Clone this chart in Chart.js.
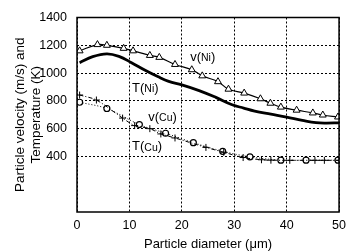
<!DOCTYPE html>
<html><head><meta charset="utf-8">
<script src="https://cdn.jsdelivr.net/npm/chart.js@4/dist/chart.umd.min.js"></script>
<style>html,body{margin:0;padding:0;background:#fff}#w{width:352px;height:252px}</style>
</head><body><div id="w"><canvas id="c"></canvas></div>
<script>
const xTicks = [0, 10, 20, 30, 40, 50];
const yTicks = [400, 600, 800, 1000, 1200, 1400];
const vNiX = [0.5, 3.9, 5.7, 8.9, 10.7, 13.9, 15.7, 18.7, 21.9, 23.9, 26.9, 28.9, 31.9, 35, 36.9, 38.9, 41.9, 45, 46.9, 49.8];
const vNiY = [1160, 1205, 1200, 1178, 1160, 1127, 1113, 1062, 1024, 980, 938, 884, 856, 815, 783, 755, 733, 713, 698, 684];
const tNiX = [0.5, 3, 5.7, 8, 10.4, 13, 15.4, 17.5, 20, 23.3, 26.5, 29.6, 31.8, 33.9, 37, 40, 43, 45.6, 47.5, 50];
const tNiY = [1075, 1118, 1138, 1120, 1075, 1020, 975, 940, 915, 874, 825, 772, 748, 726, 704, 683, 660, 643, 640, 642];
const vCuX = [0.5, 3.7, 8.7, 11, 13.9, 16, 18.7, 24.6, 28, 31.7, 35.2, 37, 40.6, 45.4, 47.2, 50];
const vCuY = [842, 806, 676, 622, 600, 562, 533, 465, 430, 392, 376, 373, 372, 372, 372, 372];
const tCuX = [0.5, 5.7, 11.9, 16.9, 22.2, 27.8, 33, 38.9, 43.7, 49.8];
const tCuY = [790, 745, 629, 567, 499, 437, 397, 373, 373, 373];
const seriesLabels = ['v(Ni)', 'T(Ni)', 'v(Cu)', 'T(Cu)'];

const pts = (xs, ys) => xs.map((x, i) => ({x, y: ys[i]}));
const FONT = "'Liberation Sans', Arial, sans-serif";

const boxPlugin = {
  id: 'box',
  afterDatasetsDraw(chart) {
    const {ctx, chartArea: a, scales: {x, y}} = chart;
    ctx.save();
    ctx.strokeStyle = '#000';
    ctx.lineWidth = 1.5;
    ctx.strokeRect(a.left, a.top, a.right - a.left, a.bottom - a.top);
    const lab = [
      ['v(', 'Ni', ')', 21.6, 1113],
      ['T(', 'Ni', ')', 10.5, 890],
      ['v(', 'Cu', ')', 13.6, 683],
      ['T(', 'Cu', ')', 10.5, 470]
    ];
    ctx.fillStyle = '#000';
    ctx.textBaseline = 'middle';
    ctx.textAlign = 'left';
    lab.forEach(([p, s, q, dx, dy]) => {
      let px = x.getPixelForValue(dx), py = y.getPixelForValue(dy);
      ctx.font = '13px ' + FONT; ctx.fillText(p, px, py); px += ctx.measureText(p).width;
      ctx.font = '10.5px ' + FONT; ctx.fillText(s, px, py + 1); px += ctx.measureText(s).width;
      ctx.font = '13px ' + FONT; ctx.fillText(q, px, py);
    });
    ctx.restore();
  }
};

new Chart(document.getElementById('c'), {
  type: 'scatter',
  data: {
    datasets: [
      {label: seriesLabels[0], data: pts(vNiX, vNiY), showLine: true, borderColor: '#000', borderWidth: 1.2, tension: 0.4,
       pointStyle: 'triangle', pointRadius: 4, pointBorderWidth: 1, pointBackgroundColor: '#fff', pointBorderColor: '#000'},
      {label: seriesLabels[1], data: pts(tNiX, tNiY), showLine: true, borderColor: '#000', borderWidth: 2.8, tension: 0.4, pointRadius: 0},
      {label: seriesLabels[2], data: pts(vCuX, vCuY), showLine: true, borderColor: '#000', borderWidth: 1, borderDash: [4, 2, 1, 2], tension: 0.3,
       pointStyle: 'cross', pointRadius: 3.5, pointBorderWidth: 1, pointBorderColor: '#000'},
      {label: seriesLabels[3], data: pts(tCuX, tCuY), showLine: true, borderColor: '#000', borderWidth: 1, borderDash: [1, 2], tension: 0.3,
       pointStyle: 'circle', pointRadius: 3, pointBorderWidth: 1.2, pointBackgroundColor: '#fff', pointBorderColor: '#000'}
    ]
  },
  options: {
    responsive: true, maintainAspectRatio: false, animation: false,
    layout: {padding: {top: 7, right: 6, left: 0, bottom: 0}},
    plugins: {legend: {display: false}, tooltip: {enabled: false}},
    scales: {
      x: {
        type: 'linear', min: 0, max: 50,
        afterBuildTicks: s => { s.ticks = xTicks.map(v => ({value: v})); },
        afterFit: s => { s.height = 40; },
        ticks: {color: '#000', font: {family: FONT, size: 12.5}, padding: 6, maxRotation: 0, callback: v => String(v)},
        grid: {color: '#000', lineWidth: 1, drawTicks: false, tickLength: 0},
        border: {display: false, dash: [2, 2]},
        title: {display: true, text: 'Particle diameter (μm)', color: '#000', font: {family: FONT, size: 13}, padding: {top: 3, bottom: 0}}
      },
      y: {
        type: 'linear', min: 0, max: 1400,
        afterBuildTicks: s => { s.ticks = yTicks.map(v => ({value: v})); },
        afterFit: s => { s.width = 77; },
        ticks: {color: '#000', font: {family: FONT, size: 12.5}, padding: 10, callback: v => String(v)},
        grid: {color: '#000', lineWidth: 1, drawTicks: false, tickLength: 0},
        border: {display: false, dash: [2, 2]},
        title: {display: true, text: ['Particle velocity (m/s) and', 'Temperature (K)'], color: '#000', font: {family: FONT, size: 13.5, lineHeight: 1.2}, padding: {top: 12, bottom: 0}}
      }
    }
  },
  plugins: [boxPlugin]
});
</script>
</body></html>
